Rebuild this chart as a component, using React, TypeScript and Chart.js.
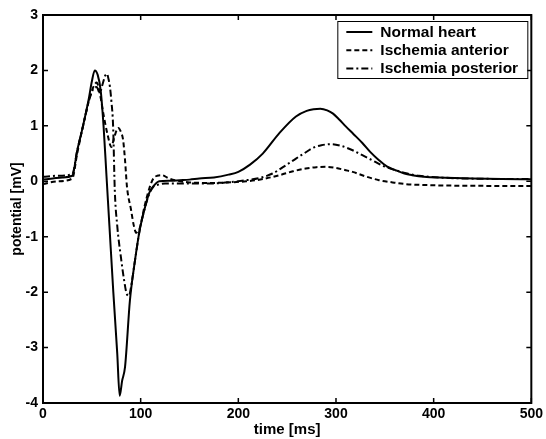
import React, { useEffect, useRef } from "react";
import { Chart, registerables } from "chart.js";

Chart.register(...registerables);

// ---- data (time in ms, potential in mV) ----
const normalTime = [0, 10, 20, 30, 35, 41, 47, 50, 53, 56, 59, 62, 65, 68, 72, 76, 78.5, 81, 84, 89, 94, 99, 104, 109, 114, 119, 130, 140, 150, 160, 175, 190, 200, 212, 225, 242, 259, 270, 277, 284, 291, 297, 303, 310, 318, 327, 335, 344, 352, 361, 370, 378, 390, 412, 440, 470, 500];
const normalValues = [0.03, 0.05, 0.07, 0.1, 0.55, 1.0, 1.5, 1.8, 2.0, 1.92, 1.65, 1.0, 0.1, -0.8, -2.0, -3.1, -3.87, -3.6, -3.35, -2.15, -1.45, -0.88, -0.5, -0.2, -0.07, 0.0, 0.01, 0.02, 0.03, 0.05, 0.07, 0.12, 0.17, 0.3, 0.5, 0.87, 1.17, 1.27, 1.3, 1.31, 1.28, 1.22, 1.12, 0.99, 0.85, 0.69, 0.53, 0.38, 0.27, 0.2, 0.14, 0.11, 0.08, 0.065, 0.05, 0.04, 0.035];

const anteriorTime = [0, 15, 30, 35, 41, 47, 52, 55, 58, 62, 66, 70, 73, 77, 80, 82, 84, 86, 90, 93, 95.5, 97, 99, 104, 109, 113, 117, 122, 128, 135, 150, 170, 208, 225, 242, 256, 269, 280, 290, 300, 310, 317, 330, 344, 358, 371, 395, 430, 500];
const anteriorValues = [-0.05, 0.0, 0.05, 0.5, 1.0, 1.45, 1.72, 1.78, 1.6, 1.2, 0.85, 0.62, 0.8, 0.96, 0.88, 0.75, 0.38, -0.1, -0.5, -0.8, -0.93, -0.9, -0.85, -0.45, -0.12, 0.05, 0.1, 0.11, 0.06, 0.02, -0.02, -0.03, 0.0, 0.04, 0.11, 0.18, 0.23, 0.255, 0.26, 0.24, 0.2, 0.17, 0.09, 0.02, -0.02, -0.05, -0.07, -0.08, -0.085];

const posteriorTime = [0, 15, 30, 35, 41, 47, 52, 55, 58, 61, 63.5, 65.5, 67, 68.5, 70, 71.8, 73.5, 76, 80, 83, 85.5, 88, 90, 94, 99, 104, 109, 113, 118, 125, 140, 170, 208, 222, 235, 247, 259, 268, 276, 285, 295, 305, 317, 327, 337, 348, 361, 373, 385, 410, 450, 500];
const posteriorValues = [0.08, 0.1, 0.13, 0.55, 1.0, 1.45, 1.68, 1.7, 1.6, 1.75, 1.9, 1.94, 1.85, 1.71, 1.45, 0.99, -0.16, -0.8, -1.4, -1.78, -2.02, -2.07, -1.92, -1.45, -0.88, -0.5, -0.22, -0.1, -0.06, -0.04, -0.04, -0.04, 0.02, 0.06, 0.14, 0.27, 0.41, 0.51, 0.6, 0.65, 0.67, 0.64, 0.56, 0.47, 0.38, 0.28, 0.2, 0.14, 0.1, 0.065, 0.045, 0.04];

const seriesLabels = ["Normal heart", "Ischemia anterior", "Ischemia posterior"];
const seriesDashes: number[][] = [[], [5, 3], [7, 3, 2, 3]];

const xMin = 0, xMax = 500, xStep = 100;
const yMin = -4, yMax = 3, yStep = 1;
const xTitle = "time [ms]";
const yTitle = "potential [mV]";

const FONT = "'Liberation Sans', Arial, sans-serif";

const toPoints = (t: number[], v: number[]) => t.map((x, i) => ({ x, y: v[i] }));

const framePlugin = {
  id: "matlabFrame",
  afterDatasetsDraw(chart: any) {
    const { ctx, chartArea: a, scales } = chart;
    ctx.save();
    ctx.strokeStyle = "#000";
    ctx.lineWidth = 2;
    ctx.strokeRect(a.left, a.top, a.right - a.left, a.bottom - a.top);
    ctx.lineWidth = 1.5;
    const L = 5;
    ctx.beginPath();
    scales.x.ticks.forEach((tk: any) => {
      const x = scales.x.getPixelForValue(tk.value);
      ctx.moveTo(x, a.bottom); ctx.lineTo(x, a.bottom - L);
      ctx.moveTo(x, a.top); ctx.lineTo(x, a.top + L);
    });
    scales.y.ticks.forEach((tk: any) => {
      const y = scales.y.getPixelForValue(tk.value);
      ctx.moveTo(a.left, y); ctx.lineTo(a.left + L, y);
      ctx.moveTo(a.right, y); ctx.lineTo(a.right - L, y);
    });
    ctx.stroke();

    // legend box
    const w = 190, h = 57;
    const bx = a.right - 4 - w;
    const by = a.top + 6;
    ctx.fillStyle = "#fff";
    ctx.fillRect(bx, by, w, h);
    ctx.lineWidth = 1;
    ctx.strokeRect(bx + 0.5, by + 0.5, w, h);
    ctx.font = `bold 15.5px ${FONT}`;
    ctx.textBaseline = "middle";
    ctx.textAlign = "left";
    ctx.fillStyle = "#000";
    chart.data.datasets.forEach((ds: any, i: number) => {
      const cy = by + 11 + i * 18.3;
      ctx.beginPath();
      ctx.lineWidth = 2;
      ctx.setLineDash(ds.borderDash || []);
      ctx.moveTo(bx + 9, cy);
      ctx.lineTo(bx + 35, cy);
      ctx.stroke();
      ctx.setLineDash([]);
      ctx.fillText(ds.label, bx + 43, cy + 0.5);
    });
    ctx.restore();
  },
};

export default function App() {
  const ref = useRef<HTMLCanvasElement | null>(null);
  useEffect(() => {
    document.body.style.margin = "0";
    const canvas = ref.current;
    if (!canvas) return;
    const series = [
      toPoints(normalTime, normalValues),
      toPoints(anteriorTime, anteriorValues),
      toPoints(posteriorTime, posteriorValues),
    ];
    const chart = new Chart(canvas, {
      type: "line",
      data: {
        datasets: series.map((pts, i) => ({
          label: seriesLabels[i],
          data: pts,
          borderColor: "#000",
          backgroundColor: "#000",
          borderWidth: 2,
          borderDash: seriesDashes[i],
          pointRadius: 0,
          fill: false,
          cubicInterpolationMode: "monotone" as const,
        })),
      },
      options: {
        responsive: false,
        animation: false,
        layout: { padding: { top: 15, right: 14, left: 0, bottom: 0 } },
        plugins: { legend: { display: false }, tooltip: { enabled: false } },
        scales: {
          x: {
            type: "linear",
            min: xMin,
            max: xMax,
            afterFit: (s: any) => { s.height = 36; },
            grid: { display: false, drawTicks: false },
            border: { display: false },
            ticks: {
              stepSize: xStep,
              padding: 3,
              color: "#000",
              font: { family: FONT, size: 14, weight: "bold" },
              maxRotation: 0,
            },
            title: {
              display: true,
              text: xTitle,
              color: "#000",
              font: { family: FONT, size: 15, weight: "bold" },
              padding: { top: 0, bottom: 0 },
            },
          },
          y: {
            type: "linear",
            min: yMin,
            max: yMax,
            afterFit: (s: any) => { s.width = 43; },
            grid: { display: false, drawTicks: false },
            border: { display: false },
            ticks: {
              stepSize: yStep,
              padding: 5,
              color: "#000",
              font: { family: FONT, size: 14, weight: "bold" },
            },
            title: {
              display: true,
              text: yTitle,
              color: "#000",
              font: { family: FONT, size: 14, weight: "bold" },
              padding: { top: 9, bottom: 0 },
            },
          },
        },
      },
      plugins: [framePlugin],
    });
    return () => chart.destroy();
  }, []);
  return (
    <div style={{ position: "absolute", left: 0, top: 0, width: 546, height: 439, background: "#fff" }}>
      <canvas ref={ref} width={546} height={439} />
    </div>
  );
}
